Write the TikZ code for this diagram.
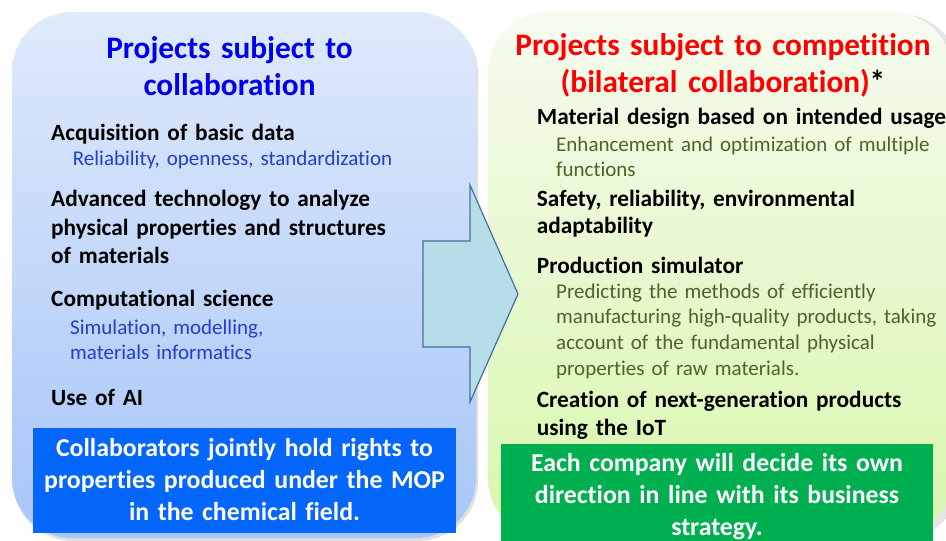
\documentclass[tikz,border=0pt]{standalone}
\usepackage{fontspec}
\setmainfont{Carlito}[Ligatures={NoCommon}]
\definecolor{lpTop}{RGB}{224,234,251}
\definecolor{lpBot}{RGB}{166,197,248}
\definecolor{rpTop}{RGB}{246,251,240}
\definecolor{rpBot}{RGB}{216,247,172}
\definecolor{titleBlue}{RGB}{0,0,238}
\definecolor{titleRed}{RGB}{255,0,0}
\definecolor{subBlue}{RGB}{35,62,205}
\definecolor{subGreen}{RGB}{79,98,40}
\definecolor{boxBlue}{RGB}{5,102,252}
\definecolor{boxGreen}{RGB}{0,176,80}
\definecolor{arrowFill}{RGB}{183,222,232}
\definecolor{arrowLine}{RGB}{65,113,156}
\tikzset{
  panel/.style={rounded corners=60pt, draw=none},
  titletext/.style={anchor=base, inner sep=0pt, text width=440pt, align=center,
    font=\bfseries\fontsize{31.3}{37.2}\selectfont},
  item/.style={anchor=base west, inner sep=0pt, text width=420pt, align=left,
    font=\bfseries\fontsize{23.3}{28.3}\selectfont, text=black},
  subL/.style={anchor=base west, inner sep=0pt, text width=400pt, align=left,
    font=\fontsize{21}{25.3}\selectfont, text=subBlue},
  subR/.style={anchor=base west, inner sep=0pt, text width=400pt, align=left,
    font=\fontsize{21}{25.6}\selectfont, text=subGreen},
  boxtext/.style={anchor=base, inner sep=0pt, text width=430pt, align=center,
    font=\bfseries\fontsize{25.8}{31.7}\selectfont, text=white},
}
\begin{document}
\begin{tikzpicture}[x=1pt,y=-1pt]
\clip (0,0) rectangle (946,541);
\fill[white] (0,0) rectangle (946,541);
% shadows
\fill[black,opacity=0.12,rounded corners=60pt] (13,14) rectangle (478,541);
\fill[black,opacity=0.10,rounded corners=60pt] (489,14) rectangle (960,540);
% panels
\path[panel, top color=lpTop, bottom color=lpBot] (12,12) rectangle (476,538);
\path[panel, top color=rpTop, bottom color=rpBot] (488,12) rectangle (952,538);
% bottom boxes
\node[fill=boxBlue, draw=none, inner sep=0pt, minimum width=423pt, minimum height=105pt, anchor=north west] (bluebox) at (33,428) {};
\node[fill=boxGreen, draw=none, inner sep=0pt, minimum width=432pt, minimum height=101pt, anchor=north west] (greenbox) at (501,444) {};
% left texts
\node[titletext, text=titleBlue] (ltitle) at (229.5,58.3) {Projects subject to\\collaboration};
\node[item] (l1) at (51,140.7) {Acquisition of basic data};
\node[subL] (l1s) at (72.7,165.7) {Reliability, openness, standardization};
\node[item] (l2) at (51,206.7) {Advanced technology to analyze\\physical properties and structures\\of materials};
\node[item] (l3) at (51,306.7) {Computational science};
\node[subL] (l3s) at (70,334) {Simulation, modelling,\\materials informatics};
\node[item] (l4) at (51,405) {Use of AI};
\node[boxtext] (lbox) at (244.5,456.7) {Collaborators jointly hold rights to\\properties produced under the MOP\\in the chemical field.};
% right texts
\node[titletext, text=titleRed] (rtitle) at (723,55) {Projects subject to competition\\(bilateral collaboration){\color{black}*}};
\node[item] (r1) at (536.7,124) {Material design based on intended usage};
\node[subR, font=\fontsize{21}{25}\selectfont] (r1s) at (556,151.7) {Enhancement and optimization of multiple\\functions};
\node[item, font=\bfseries\fontsize{23.3}{26.6}\selectfont] (r2) at (536.7,206.7) {Safety, reliability, environmental\\adaptability};
\node[item] (r3) at (536.7,273) {Production simulator};
\node[subR] (r3s) at (556,298.3) {Predicting the methods of efficiently\\manufacturing high-quality products, taking\\account of the fundamental physical\\properties of raw materials.};
\node[item, font=\bfseries\fontsize{23.3}{27.7}\selectfont] (r4) at (536.7,407.3) {Creation of next-generation products\\using the IoT};
\node[boxtext] (rbox) at (717,471.7) {Each company will decide its own\\direction in line with its business\\strategy.};
% arrow
\draw[fill=arrowFill, draw=arrowLine, line width=1.2pt, line join=miter]
  (423,241) -- (470,241) -- (470,185) -- (518,294) -- (470,402) -- (470,347) -- (423,347) -- cycle;
\end{tikzpicture}
\end{document}
